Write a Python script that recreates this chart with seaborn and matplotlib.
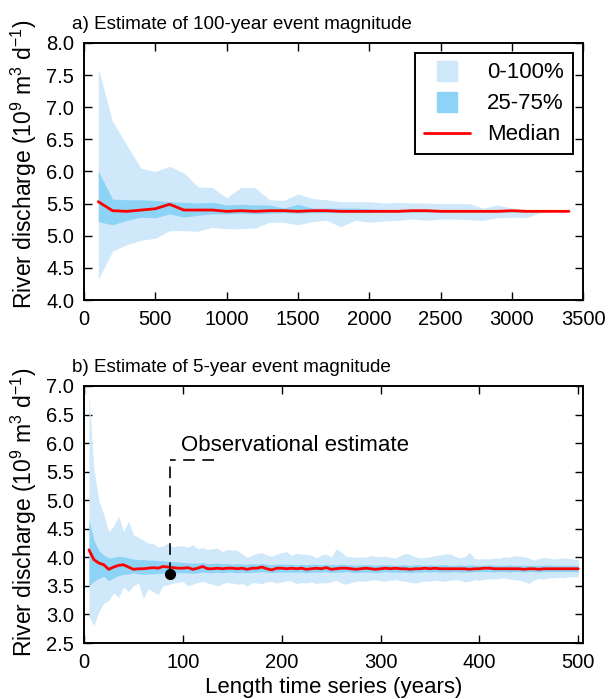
import numpy as np
import pandas as pd
import seaborn as sns
import matplotlib.pyplot as plt
from matplotlib.lines import Line2D

# --------------------------- DATA ---------------------------
# a) 100-year event, series length 100..3400 years
years_a = list(range(100, 3500, 100))
hi_a = [7.60, 6.78, 6.41, 6.05, 6.00, 6.08, 5.98, 5.76, 5.75, 5.59,
        5.75, 5.75, 5.56, 5.55, 5.65, 5.58, 5.56, 5.53, 5.53, 5.53,
        5.51, 5.52, 5.51, 5.51, 5.50, 5.50, 5.50, 5.43, 5.48, 5.43,
        5.41, 5.39, 5.39, 5.39]
q75_a = [6.01, 5.57, 5.56, 5.56, 5.55, 5.53, 5.52, 5.51, 5.52, 5.48,
         5.49, 5.48, 5.48, 5.43, 5.49, 5.43, 5.43, 5.43, 5.43, 5.42,
         5.41, 5.41, 5.41, 5.41, 5.40, 5.40, 5.40, 5.40, 5.40, 5.39,
         5.39, 5.38, 5.38, 5.38]
med_a = [5.53, 5.39, 5.38, 5.40, 5.42, 5.49, 5.40, 5.40, 5.40, 5.38,
         5.39, 5.38, 5.39, 5.39, 5.38, 5.39, 5.39, 5.38, 5.38, 5.38,
         5.38, 5.38, 5.39, 5.39, 5.38, 5.38, 5.38, 5.38, 5.38, 5.39,
         5.38, 5.38, 5.38, 5.38]
q25_a = [5.22, 5.17, 5.24, 5.29, 5.28, 5.34, 5.29, 5.32, 5.34, 5.34,
         5.35, 5.34, 5.35, 5.36, 5.35, 5.36, 5.36, 5.36, 5.36, 5.36,
         5.37, 5.37, 5.37, 5.37, 5.37, 5.37, 5.37, 5.37, 5.37, 5.37,
         5.37, 5.38, 5.38, 5.38]
lo_a = [4.32, 4.76, 4.86, 4.93, 4.96, 5.08, 5.08, 5.07, 5.13, 5.11,
        5.11, 5.12, 5.21, 5.21, 5.17, 5.22, 5.24, 5.14, 5.24, 5.21,
        5.23, 5.24, 5.26, 5.24, 5.26, 5.26, 5.25, 5.24, 5.28, 5.29,
        5.28, 5.36, 5.38, 5.38]

# b) 5-year event, series length 5..500 years
years_b = list(range(5, 505, 5))
hi_b = [6.85, 5.55, 5.00, 4.75, 4.45, 4.55, 4.72, 4.45, 4.63, 4.40,
        4.35, 4.30, 4.25, 4.24, 4.18, 4.20, 4.25, 4.18, 4.20, 4.20,
        4.18, 4.22, 4.15, 4.17, 4.14, 4.15, 4.16, 4.10, 4.14, 4.13,
        4.12, 4.06, 4.00, 4.04, 4.07, 4.08, 4.04, 4.02, 4.06, 4.08,
        4.10, 4.03, 4.07, 4.06, 4.05, 4.04, 3.99, 4.04, 4.06, 4.00,
        4.15, 4.10, 4.02, 4.01, 4.00, 4.01, 4.00, 4.03, 4.02, 4.01,
        4.02, 4.00, 3.99, 4.03, 4.07, 4.05, 4.01, 3.99, 4.00, 4.01,
        4.03, 4.04, 4.06, 4.06, 4.02, 3.99, 4.01, 4.09, 3.98, 3.97,
        3.98, 3.97, 3.99, 3.98, 4.01, 4.00, 4.03, 4.02, 4.01, 3.99,
        3.95, 3.98, 4.00, 3.99, 3.97, 3.98, 3.99, 3.98, 3.97, 3.96]
q75_b = [4.66, 4.30, 4.12, 4.04, 3.99, 4.00, 4.02, 4.01, 3.99, 3.97,
         3.96, 3.96, 3.95, 3.95, 3.94, 3.94, 3.93, 3.92, 3.92, 3.91,
         3.90, 3.90, 3.90, 3.91, 3.89, 3.89, 3.90, 3.89, 3.89, 3.88,
         3.89, 3.88, 3.88, 3.89, 3.88, 3.89, 3.88, 3.87, 3.88, 3.88,
         3.88, 3.88, 3.87, 3.88, 3.87, 3.88, 3.88, 3.87, 3.88, 3.87,
         3.87, 3.88, 3.87, 3.87, 3.86, 3.87, 3.87, 3.87, 3.86, 3.87,
         3.87, 3.87, 3.86, 3.87, 3.87, 3.86, 3.87, 3.87, 3.86, 3.87,
         3.86, 3.87, 3.87, 3.86, 3.86, 3.87, 3.86, 3.87, 3.86, 3.86,
         3.86, 3.87, 3.86, 3.86, 3.86, 3.87, 3.86, 3.86, 3.86, 3.86,
         3.86, 3.86, 3.86, 3.87, 3.86, 3.86, 3.86, 3.86, 3.86, 3.86]
med_b = [4.13, 3.96, 3.90, 3.87, 3.79, 3.83, 3.86, 3.87, 3.83, 3.79,
         3.80, 3.80, 3.81, 3.82, 3.81, 3.84, 3.83, 3.82, 3.81, 3.81,
         3.82, 3.79, 3.81, 3.84, 3.80, 3.80, 3.81, 3.80, 3.81, 3.81,
         3.80, 3.81, 3.79, 3.81, 3.81, 3.83, 3.80, 3.78, 3.81, 3.81,
         3.80, 3.81, 3.80, 3.81, 3.79, 3.80, 3.81, 3.80, 3.82, 3.79,
         3.80, 3.81, 3.81, 3.80, 3.79, 3.80, 3.81, 3.80, 3.79, 3.80,
         3.81, 3.80, 3.81, 3.80, 3.80, 3.79, 3.80, 3.80, 3.81, 3.80,
         3.81, 3.80, 3.80, 3.80, 3.80, 3.80, 3.80, 3.79, 3.80, 3.80,
         3.81, 3.81, 3.80, 3.80, 3.80, 3.80, 3.80, 3.80, 3.79, 3.80,
         3.80, 3.79, 3.80, 3.80, 3.80, 3.80, 3.80, 3.80, 3.80, 3.80]
q25_b = [3.50, 3.58, 3.63, 3.67, 3.59, 3.64, 3.68, 3.70, 3.71, 3.73,
         3.71, 3.70, 3.71, 3.71, 3.72, 3.72, 3.72, 3.73, 3.73, 3.73,
         3.73, 3.72, 3.73, 3.74, 3.73, 3.73, 3.74, 3.73, 3.74, 3.74,
         3.73, 3.74, 3.73, 3.74, 3.74, 3.75, 3.74, 3.73, 3.74, 3.74,
         3.74, 3.74, 3.74, 3.74, 3.73, 3.74, 3.74, 3.74, 3.75, 3.73,
         3.74, 3.74, 3.75, 3.74, 3.73, 3.74, 3.74, 3.74, 3.73, 3.74,
         3.75, 3.74, 3.74, 3.74, 3.74, 3.73, 3.74, 3.74, 3.75, 3.74,
         3.75, 3.74, 3.74, 3.74, 3.75, 3.74, 3.74, 3.74, 3.75, 3.75,
         3.75, 3.75, 3.74, 3.75, 3.75, 3.74, 3.75, 3.75, 3.74, 3.75,
         3.75, 3.74, 3.75, 3.75, 3.75, 3.75, 3.75, 3.75, 3.75, 3.75]
lo_b = [2.97, 2.80, 3.05, 3.20, 3.24, 3.38, 3.30, 3.48, 3.40, 3.50,
        3.55, 3.28, 3.45, 3.40, 3.35, 3.50, 3.52, 3.55, 3.56, 3.58,
        3.50, 3.53, 3.56, 3.58, 3.55, 3.53, 3.50, 3.54, 3.56, 3.55,
        3.53, 3.54, 3.50, 3.56, 3.55, 3.54, 3.57, 3.58, 3.55, 3.57,
        3.59, 3.58, 3.54, 3.56, 3.55, 3.57, 3.54, 3.56, 3.55, 3.57,
        3.60, 3.55, 3.53, 3.56, 3.58, 3.59, 3.58, 3.60, 3.61, 3.59,
        3.58, 3.60, 3.61, 3.59, 3.58, 3.56, 3.55, 3.57, 3.59, 3.58,
        3.60, 3.59, 3.58, 3.60, 3.61, 3.60, 3.57, 3.58, 3.61, 3.60,
        3.61, 3.63, 3.62, 3.63, 3.64, 3.62, 3.61, 3.60, 3.58, 3.54,
        3.60, 3.63, 3.62, 3.64, 3.64, 3.65, 3.64, 3.66, 3.66, 3.66]

# observational estimate and where its label sits
obs_year = 87
obs_value = 3.70
obs_label_x = 98
obs_label_y = 5.96
obs_line_y = 5.70
obs_line_end = 132

# --------------------------- STYLE ---------------------------
sns.set_theme(style='ticks')
plt.rcParams['font.family'] = ['Liberation Sans', 'DejaVu Sans']
plt.rcParams['mathtext.fontset'] = 'custom'
plt.rcParams['mathtext.rm'] = 'Liberation Sans'
plt.rcParams['mathtext.it'] = 'Liberation Sans:italic'
plt.rcParams['mathtext.sf'] = 'Liberation Sans'
plt.rcParams['text.color'] = 'black'
plt.rcParams['axes.labelcolor'] = 'black'
plt.rcParams['xtick.color'] = 'black'
plt.rcParams['ytick.color'] = 'black'

light = '#cfe9fb'
dark = '#8dd3f5'
ylab = r'River discharge (10$^{9}$ m$^{3}$ d$^{-1}$)'

fig = plt.figure(figsize=(6.11, 6.99), dpi=100)
ax1 = fig.add_axes([0.1375, 0.5708, 0.817, 0.3677])
ax2 = fig.add_axes([0.1375, 0.0801, 0.817, 0.3677])


def draw_panel(ax, x, lo, q25, med, q75, hi):
    ax.fill_between(x, lo, hi, color=light, lw=0)
    ax.fill_between(x, q25, q75, color=dark, lw=0)
    df = pd.DataFrame({'x': x, 'y': med})
    sns.lineplot(data=df, x='x', y='y', color='red', lw=2, ax=ax)
    ax.set_xlabel('')
    ax.set_ylabel(ylab, fontsize=16.5)
    for s in ax.spines.values():
        s.set_linewidth(1.4)
        s.set_color('black')
    ax.tick_params(direction='in', top=True, right=True, length=6,
                   width=1, labelsize=14.5, pad=7)


draw_panel(ax1, years_a, lo_a, q25_a, med_a, q75_a, hi_a)
ax1.set_xlim(0, 3500)
ax1.set_ylim(4.0, 8.0)
ax1.set_xticks(range(0, 3501, 500))
ax1.set_yticks(np.arange(4.0, 8.01, 0.5))
ax1.set_yticklabels([f'{v:.1f}' for v in np.arange(4.0, 8.01, 0.5)])
ax1.yaxis.set_label_coords(-0.091, 0.53)
ax1.text(-0.024, 1.04, 'a) Estimate of 100-year event magnitude',
         transform=ax1.transAxes, fontsize=13.6, ha='left', va='bottom')

handles = [
    Line2D([0], [0], marker='s', ls='none', markersize=14.5, color=light, mec=light),
    Line2D([0], [0], marker='s', ls='none', markersize=14.5, color=dark, mec=dark),
    Line2D([0], [0], color='red', lw=2),
]
leg = ax1.legend(handles, ['0-100%', '25-75%', 'Median'], loc='upper right',
                 fontsize=16, frameon=True, fancybox=False, framealpha=1,
                 edgecolor='black', borderaxespad=0.47, handlelength=2.1,
                 labelspacing=0.45, handletextpad=0.75)
leg.get_frame().set_linewidth(1.4)

draw_panel(ax2, years_b, lo_b, q25_b, med_b, q75_b, hi_b)
ax2.set_xlim(0, 505)
ax2.set_ylim(2.5, 7.0)
ax2.set_xticks(range(0, 501, 100))
ax2.set_yticks(np.arange(2.5, 7.01, 0.5))
ax2.set_yticklabels([f'{v:.1f}' for v in np.arange(2.5, 7.01, 0.5)])
ax2.yaxis.set_label_coords(-0.091, 0.51)
ax2.set_xlabel('Length time series (years)', fontsize=16)
ax2.text(-0.024, 1.04, 'b) Estimate of 5-year event magnitude',
         transform=ax2.transAxes, fontsize=13.6, ha='left', va='bottom')

# observational estimate: dot, dashed leader and label
dash = (0, (7, 4.5))
ax2.plot([obs_year, obs_year], [obs_value, obs_line_y], color='black',
         lw=1.2, ls=dash, zorder=4)
ax2.plot([obs_line_end, obs_year], [obs_line_y, obs_line_y], color='black',
         lw=1.2, ls=dash, zorder=4)
ax2.plot([obs_year], [obs_value], 'o', color='black', markersize=7, zorder=5)
ax2.text(obs_label_x, obs_label_y, 'Observational estimate', fontsize=16,
         va='center', ha='left')

fig.savefig('out.png', dpi=100)
